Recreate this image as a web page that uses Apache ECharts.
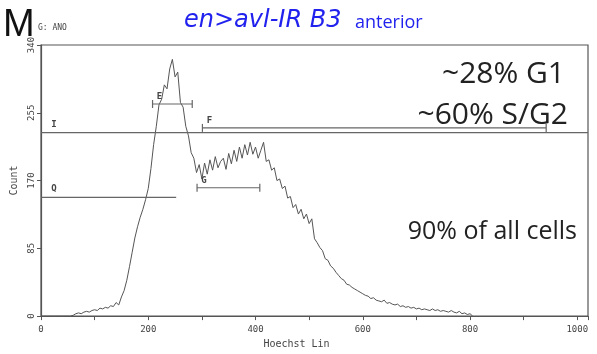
<!DOCTYPE html>
<html>
<head>
<meta charset="utf-8">
<script src="https://cdn.jsdelivr.net/npm/echarts@6/dist/echarts.min.js"></script>
<style>
  html, body { margin: 0; padding: 0; background: #fff; }
  #chart { width: 597px; height: 354px; }
</style>
</head>
<body>
<div id="chart"></div>
<script>
// Hoechst histogram, one count every 5 channels starting at channel 0
const channelStep = 5;
const counts = [
  0, 0, 0, 0, 0, 0, 0, 0, 0, 0, 0, 0,
  1, 3, 4, 3, 5, 6, 5, 7, 8, 7, 10, 9, 11, 10, 13, 12, 17, 14,
  24, 32, 45, 62, 80, 98, 112, 124, 134, 146,
  160, 185, 215, 238, 265, 272, 290, 285, 310, 322,
  300, 306, 268, 262, 238, 226, 205, 198, 180, 190,
  172, 192, 178, 196, 183, 200, 186, 194, 198, 184,
  204, 191, 208, 194, 212, 198, 215, 202, 218, 203,
  212, 198, 208, 218, 194, 196, 183, 186, 170, 172,
  160, 163, 148, 150, 136, 140, 128, 134, 122, 128,
  116, 122, 97, 92, 86, 82, 72, 70, 63, 60,
  55, 51, 47, 45, 40, 39, 36, 34, 32, 30,
  28, 26, 25, 22, 23, 20, 19, 18, 20, 16,
  17, 15, 14, 15, 12, 13, 11, 12, 10, 11,
  9, 10, 8, 9, 8, 7, 9, 7, 8, 6,
  7, 6, 5, 7, 5, 4, 6, 3, 4, 2,
  3, 0
];

// gates: name, start channel, end channel, count level
const gateNames = ['E', 'F', 'G', 'Q', 'I'];
const gateStart = [208, 301, 291, 0, 0];
const gateEnd = [282, 942, 408, 252, 1020];
const gateLevel = [266, 236, 161, 149, 230];

const yTicks = [0, 85, 170, 255, 340];
const xLabelStep = 200;

const notes = ['~28% G1', '~60% S/G2', '90% of all cells'];

const histData = counts.map((c, i) => [i * channelStep, c]);

const gateSeries = gateNames.map((name, i) => {
  const full = gateStart[i] === 0;
  return {
    type: 'line',
    silent: true,
    data: [
      {
        value: [gateStart[i], gateLevel[i]],
        label: {
          show: true, formatter: name, position: 'top', distance: 0,
          offset: full ? [13, 0] : [7, 1],
          fontFamily: 'DejaVu Sans Mono', fontSize: 9, fontWeight: 'bold', color: '#444'
        }
      },
      { value: [gateEnd[i], gateLevel[i]] }
    ],
    showSymbol: true,
    symbol: 'rect',
    symbolSize: full ? [0.01, 8] : [1.2, 8],
    itemStyle: { color: '#666' },
    lineStyle: { color: '#666', width: 1.2 },
    z: 3
  };
});

const chart = echarts.init(document.getElementById('chart'));
chart.setOption({
  animation: false,
  grid: { left: 41, right: 9, top: 45, bottom: 35, show: true, borderColor: '#555', borderWidth: 1.2 },
  graphic: [
    { type: 'text', left: 3, top: 7, style: { text: 'M', font: '38px "Liberation Sans"', fill: '#111' } },
    { type: 'text', left: 38, top: 24, style: { text: 'G: ANO', font: '8px "DejaVu Sans Mono"', fill: '#444' } },
    { type: 'text', left: 184, top: 9, style: { text: 'en>avl-IR B3', font: 'italic 24px "DejaVu Sans"', fill: '#2222ee' } },
    { type: 'text', left: 355, top: 14, style: { text: 'anterior', font: '18px "Open Sans"', fill: '#2222ee' } },
    { type: 'text', right: 32, top: 59, style: { text: notes[0], font: '30px "Open Sans"', fill: '#222' } },
    { type: 'text', right: 29, top: 100, style: { text: notes[1], font: '30px "Open Sans"', fill: '#222' } },
    { type: 'text', right: 20, top: 219, style: { text: notes[2], font: '25px "Open Sans"', fill: '#222' } }
  ],
  xAxis: {
    type: 'value', min: 0, max: 1020, interval: 100,
    name: 'Hoechst Lin', nameLocation: 'middle', nameGap: 16,
    nameTextStyle: { fontFamily: 'DejaVu Sans Mono', fontSize: 10, color: '#444', padding: [0, 36, 0, 0] },
    axisLine: { lineStyle: { color: '#555', width: 1.2 } },
    axisTick: { show: true, length: 4, lineStyle: { color: '#555' } },
    axisLabel: {
      fontFamily: 'DejaVu Sans Mono', fontSize: 9, color: '#444', margin: 9,
      formatter: v => (v % xLabelStep === 0 ? String(v) : '')
    },
    splitLine: { show: false }
  },
  yAxis: {
    type: 'value', min: yTicks[0], max: yTicks[yTicks.length - 1], interval: yTicks[1] - yTicks[0],
    name: 'Count', nameLocation: 'middle', nameGap: 15,
    nameTextStyle: { fontFamily: 'DejaVu Sans Mono', fontSize: 10, color: '#444' },
    axisLine: { show: true, lineStyle: { color: '#555', width: 1.2 } },
    axisTick: { show: true, length: 4, lineStyle: { color: '#555' } },
    axisLabel: { rotate: 90, fontFamily: 'DejaVu Sans Mono', fontSize: 9, color: '#444', margin: 5 },
    splitLine: { show: false }
  },
  series: [
    {
      type: 'line',
      data: histData,
      showSymbol: false,
      lineStyle: { color: '#555', width: 1 },
      silent: true,
      z: 2
    },
    ...gateSeries
  ]
});
</script>
</body>
</html>
